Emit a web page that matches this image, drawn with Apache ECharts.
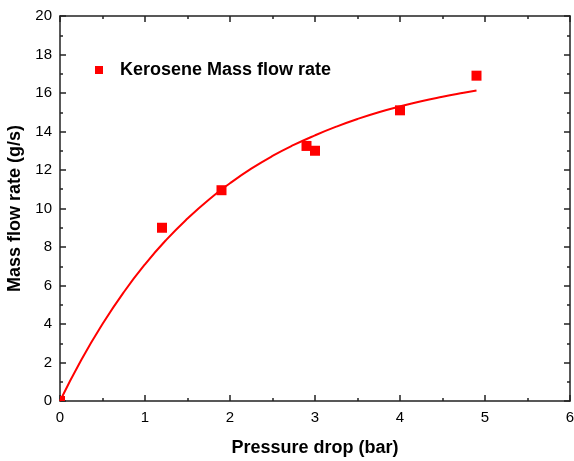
<!DOCTYPE html>
<html>
<head>
<meta charset="utf-8">
<script src="https://cdn.jsdelivr.net/npm/echarts@6/dist/echarts.min.js"></script>
<style>
  * { margin: 0; padding: 0; }
  #chart-container { width: 574px; height: 461px; background: #fff; }
</style>
</head>
<body>
<div id="chart-container"></div>
<script>
  // measured points
  var pressure = [0, 1.2, 1.9, 2.9, 3.0, 4.0, 4.9]
  var massFlow = [0, 9.0, 10.95, 13.25, 13.0, 15.1, 16.9]

  // fitted curve
  var fitX = [0, 0.25, 0.5, 0.75, 1.0, 1.25, 1.5, 1.75, 2.0, 2.25, 2.5, 2.75, 3.0, 3.25, 3.5, 3.75, 4.0, 4.25, 4.5, 4.75, 4.9]
  var fitY = [0, 2.13, 4.0, 5.65, 7.1, 8.37, 9.48, 10.46, 11.31, 12.07, 12.73, 13.3, 13.8, 14.25, 14.65, 15.0, 15.3, 15.57, 15.8, 16.01, 16.13]

  var xTicks = ['0', '1', '2', '3', '4', '5', '6']
  var yTicks = ['0', '2', '4', '6', '8', '10', '12', '14', '16', '18', '20']

  var chartDom = document.getElementById('chart-container')
  var myChart = echarts.init(chartDom, null, { renderer: 'canvas' })

  var axisLine = { show: true, onZero: false, lineStyle: { color: '#222', width: 1.5 } }
  var axisTick = { show: true, inside: true, length: 6, lineStyle: { color: '#222', width: 1.5 } }
  var minorTick = { show: true, splitNumber: 2, length: 3, lineStyle: { color: '#222', width: 1.5 } }
  var font = 'Liberation Sans, Arial, sans-serif'

  var option = {
    animation: false,
    backgroundColor: '#fff',
    grid: { left: 60, right: 4, top: 16, bottom: 60, outerBoundsMode: 'none', containLabel: false },
    legend: {
      data: [{ name: 'Kerosene Mass flow rate', icon: 'rect' }],
      left: 90,
      top: 56,
      itemWidth: 8,
      itemHeight: 8,
      textStyle: { fontFamily: font, fontSize: 18, fontWeight: 'bold', color: '#000', padding: [0, 0, 0, 12] }
    },
    xAxis: [
      {
        type: 'value', min: 0, max: 6, interval: 1,
        name: 'Pressure drop (bar)', nameLocation: 'middle', nameGap: 38,
        nameTextStyle: { fontFamily: font, fontSize: 18, fontWeight: 'bold', color: '#000' },
        axisLine: axisLine, axisTick: axisTick, minorTick: minorTick,
        axisLabel: {
          fontFamily: font, fontSize: 15, color: '#000', margin: 9,
          formatter: function (v) { return xTicks[Math.round(v)] }
        },
        splitLine: { show: false }
      },
      {
        type: 'value', min: 0, max: 6, interval: 1, position: 'top',
        axisLine: axisLine, axisTick: axisTick, minorTick: minorTick,
        axisLabel: { show: false }, splitLine: { show: false }
      }
    ],
    yAxis: [
      {
        type: 'value', min: 0, max: 20, interval: 2,
        name: 'Mass flow rate (g/s)', nameLocation: 'middle', nameGap: 31,
        nameTextStyle: { fontFamily: font, fontSize: 18, fontWeight: 'bold', color: '#000' },
        axisLine: axisLine, axisTick: axisTick, minorTick: minorTick,
        axisLabel: {
          fontFamily: font, fontSize: 15, color: '#000', margin: 8,
          formatter: function (v) { return yTicks[Math.round(v / 2)] }
        },
        splitLine: { show: false }
      },
      {
        type: 'value', min: 0, max: 20, interval: 2, position: 'right',
        axisLine: axisLine, axisTick: axisTick, minorTick: minorTick,
        axisLabel: { show: false }, splitLine: { show: false }
      }
    ],
    series: [
      {
        name: 'fit',
        type: 'line',
        data: fitX.map(function (x, i) { return [x, fitY[i]] }),
        smooth: true,
        showSymbol: false,
        lineStyle: { color: '#ff0000', width: 2 },
        z: 2
      },
      {
        name: 'Kerosene Mass flow rate',
        type: 'scatter',
        data: pressure.map(function (x, i) {
          // the point at the origin is mostly hidden by the axes
          if (x === 0) return { value: [x, massFlow[i]], symbolSize: 5, symbolOffset: [2.5, -2.5] }
          return [x, massFlow[i]]
        }),
        symbol: 'rect',
        symbolSize: 10,
        itemStyle: { color: '#ff0000', opacity: 1 },
        z: 3
      }
    ]
  }
  myChart.setOption(option)
  window.addEventListener('resize', myChart.resize)
</script>
</body>
</html>
